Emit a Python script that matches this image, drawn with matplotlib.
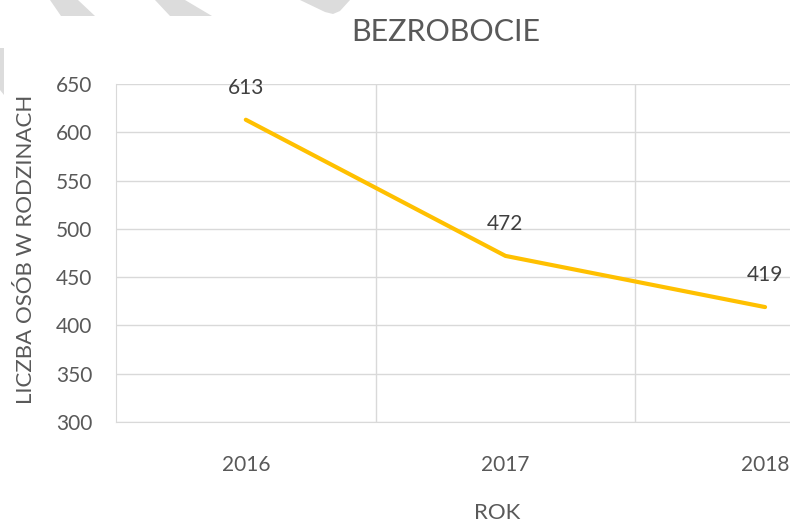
import matplotlib.pyplot as plt
from matplotlib.patches import Polygon

years = ['2016', '2017', '2018']
values = [613, 472, 419]
y_ticks = [300, 350, 400, 450, 500, 550, 600, 650]

plt.rcParams['font.family'] = ['Lato', 'DejaVu Sans']
txt = '#595959'
grid_c = '#D9D9D9'

fig = plt.figure(figsize=(7.9, 5.23), dpi=100)
ax = fig.add_axes([116/790, 1 - 422/523, 1 - 116/790, (422 - 84)/523])

# light grey decorative bands at the top-left corner
W, H = 790, 523
def band(pts):
    fig.patches.append(Polygon([(x/W, 1 - y/H) for x, y in pts], closed=True,
                               transform=fig.transFigure, facecolor='#DCDCDC',
                               edgecolor='none', zorder=0))
band([(50, 0), (78, 0), (95, 16), (61, 16)])
band([(155, 0), (185, 0), (212, 16), (170, 16)])
band([(300, 0), (350, 0), (340, 11), (333, 14), (325, 12)])
band([(0, 48), (4, 48), (4, 95), (0, 90)])

x = list(range(len(years)))
ax.plot(x, values, color='#FFC000', lw=3, solid_capstyle='round', zorder=3)
for xi, v in zip(x, values):
    ax.annotate(str(v), (xi, v), xytext=(0, 23), textcoords='offset points',
                ha='center', va='center', fontsize=15, color='#404040')

ax.set_xlim(-0.5, 2.096)
ax.set_ylim(300, 650)
ax.set_yticks(y_ticks)
ax.set_xticks(x)
ax.set_xticklabels(years)
ax.set_xticks([0.5, 1.5], minor=True)
ax.grid(True, axis='y', color=grid_c, lw=1)
ax.grid(True, axis='x', which='minor', color=grid_c, lw=1)
ax.tick_params(axis='both', which='both', length=0, labelsize=15, labelcolor=txt)
ax.tick_params(axis='y', pad=17)
ax.tick_params(axis='x', pad=24)
for s in ['top', 'right']:
    ax.spines[s].set_visible(False)
ax.spines['left'].set_color(grid_c)
ax.spines['bottom'].set_color(grid_c)

ax.set_ylabel('LICZBA OSÓB W RODZINACH', fontsize=16, color=txt)
ax.yaxis.set_label_coords(-0.118, 0.51)
fig.text(497/790, 1 - 513/523, 'ROK', ha='center', va='center',
         fontsize=16, color=txt)
fig.text(446/790, 1 - 32/523, 'BEZROBOCIE', ha='center', va='center',
         fontsize=22, color=txt)

fig.savefig('out.png', dpi=100)
